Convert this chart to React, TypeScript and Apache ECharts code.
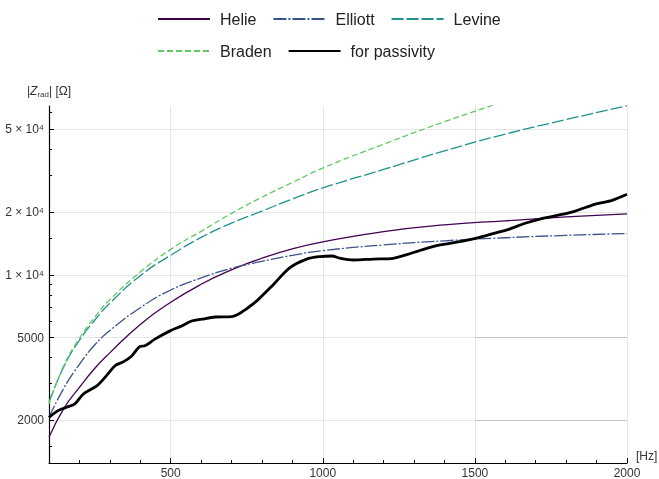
import { useEffect, useRef } from "react";
import * as echarts from "echarts";

// Model curves sampled on a common frequency grid [Hz] -> |Z_rad| [Ohm]
const modelHz = [100, 150, 200, 250, 300, 400, 500, 600, 700, 800, 900, 1000, 1200, 1400, 1600, 1800, 2000];
const helie = [1660, 2300, 2880, 3550, 4220, 5780, 7380, 9000, 10550, 12000, 13300, 14370, 16100, 17350, 18150, 18950, 19600];
const elliott = [2070, 2880, 3720, 4600, 5400, 6950, 8450, 9650, 10750, 11600, 12400, 13050, 13900, 14550, 15050, 15450, 15770];
const levine = [2450, 3650, 4850, 6050, 7300, 9900, 12400, 15100, 17700, 20200, 23100, 26100, 32000, 39300, 47300, 55500, 64700];
const bradenHz = [100, 150, 200, 250, 300, 400, 500, 600, 700, 800, 900, 1000, 1200, 1400, 1600];
const braden = [2400, 3700, 4950, 6250, 7600, 10300, 13230, 16150, 19700, 23550, 27700, 32500, 42300, 54200, 68000];

// "for passivity" measured curve
const passHz = [100, 130, 160, 185, 213, 257, 289, 317, 344, 372, 399, 415, 448, 498, 536, 569, 602, 646, 701, 722, 744, 783, 838, 892, 947, 991, 1030, 1057, 1101, 1166, 1232, 1276, 1331, 1386, 1413, 1499, 1534, 1572, 1611, 1665, 1720, 1786, 1830, 1896, 1951, 2000];
const passZ = [2070, 2230, 2320, 2400, 2680, 2930, 3280, 3660, 3820, 4080, 4530, 4560, 4910, 5380, 5680, 6000, 6120, 6270, 6300, 6460, 6780, 7490, 8990, 10810, 11890, 12220, 12300, 12000, 11770, 11890, 11990, 12500, 13240, 13900, 14090, 14900, 15380, 15930, 16510, 17670, 18610, 19460, 20200, 21830, 22760, 24320];

const seriesNames = ["Helie", "Elliott", "Levine", "Braden", "for passivity"];

const xMajor = [500, 1000, 1500, 2000];
const xMinor = [200, 300, 400, 600, 700, 800, 900, 1100, 1200, 1300, 1400, 1600, 1700, 1800, 1900];
const yMajor = [2000, 5000, 10000, 20000, 50000];
const yMajorLabels = ["2000", "5000", "1 × 10⁴", "2 × 10⁴", "5 × 10⁴"];
const yMinor = [1500, 3000, 4000, 6000, 7000, 8000, 9000, 15000, 30000, 40000, 60000];

const FONT = "Liberation Sans, Arial, sans-serif";

function pairs(xs: number[], ys: number[]) {
  return xs.map((x, i) => [x, ys[i]]);
}

export default function App() {
  const ref = useRef<HTMLDivElement>(null);
  useEffect(() => {
    if (!ref.current) return;
    const chart = echarts.init(ref.current, undefined, { renderer: "svg" });
    const X_MIN = 100, X_MAX = 2000, Y_MIN = 1250, Y_MAX = 64500;
    const lineSeries = (name: string, data: number[][], color: string, width: number, type: any, smooth: any) => ({
      name,
      type: "line",
      data,
      symbol: "none",
      showSymbol: false,
      smooth,
      lineStyle: { color, width, type },
      itemStyle: { color },
      emphasis: { disabled: true },
    });
    const helieS: any = lineSeries(seriesNames[0], pairs(modelHz, helie), "#440154", 1.3, "solid", true);
    helieS.markLine = {
      silent: true,
      symbol: "none",
      label: { show: false },
      lineStyle: { color: "#c4c4c4", width: 1, type: "solid" },
      data: [
        [{ coord: [1500, 5000] }, { coord: [2000, 5000] }],
        [{ coord: [1500, 2000] }, { coord: [2000, 2000] }],
      ],
    };
    chart.setOption({
      animation: false,
      textStyle: { fontFamily: FONT },
      legend: {
        left: 152,
        top: 6,
        width: 400,
        itemWidth: 52,
        itemHeight: 14,
        itemGap: 16,
        data: seriesNames,
        itemStyle: { opacity: 0 },
        textStyle: { fontSize: 16, color: "#222", fontFamily: FONT, padding: [0, 0, 0, 5] },
      },
      grid: { left: 49, right: 32, top: 106, bottom: 16, containLabel: false, outerBoundsMode: "none" },
      xAxis: [
        {
          type: "value",
          min: X_MIN,
          max: X_MAX,
          name: "[Hz]",
          nameLocation: "end",
          nameGap: 9,
          nameTextStyle: { fontSize: 12, color: "#333", fontFamily: FONT, verticalAlign: "bottom", lineHeight: 14 },
          axisLine: { show: true, lineStyle: { color: "#000", width: 1.2 } },
          axisTick: { show: true, inside: true, length: 5, customValues: xMajor, lineStyle: { color: "#000", width: 1 } },
          axisLabel: { show: true, customValues: xMajor, margin: 4, fontSize: 12, color: "#333", fontFamily: FONT, formatter: (v: number) => String(Math.round(v)) },
          splitLine: { show: true, lineStyle: { color: "#e6e6e6", width: 1 } },
        },
        {
          type: "value",
          min: X_MIN,
          max: X_MAX,
          position: "bottom",
          axisLine: { show: false },
          axisTick: { show: true, inside: true, length: 3, customValues: xMinor, lineStyle: { color: "#000", width: 1 } },
          axisLabel: { show: false },
          splitLine: { show: false },
        },
      ],
      yAxis: [
        {
          type: "log",
          min: Y_MIN,
          max: Y_MAX,
          name: "|{z|Z}{s|rad}| [Ω]",
          nameLocation: "end",
          nameGap: 8,
          nameTextStyle: {
            fontSize: 12,
            color: "#333",
            fontFamily: FONT,
            rich: {
              z: { fontSize: 12, fontStyle: "italic", color: "#333", fontFamily: FONT },
              s: { fontSize: 8, color: "#333", fontFamily: FONT, padding: [6, 0, 0, 0] },
            },
          },
          axisLine: { show: true, lineStyle: { color: "#000", width: 1.2 } },
          axisTick: { show: true, inside: true, length: 5, customValues: yMajor, lineStyle: { color: "#000", width: 1 } },
          axisLabel: {
            show: true,
            customValues: yMajor,
            margin: 5,
            fontSize: 12,
            color: "#333",
            fontFamily: FONT,
            formatter: (v: number) => {
              const i = yMajor.findIndex((m) => Math.abs(m - v) / m < 1e-3);
              return i >= 0 ? yMajorLabels[i] : "";
            },
          },
          splitLine: { show: true, lineStyle: { color: "#e6e6e6", width: 1 } },
        },
        {
          type: "log",
          min: Y_MIN,
          max: Y_MAX,
          position: "left",
          offset: 0,
          axisLine: { show: false },
          axisTick: { show: true, inside: true, length: 3, customValues: yMinor, lineStyle: { color: "#000", width: 1 } },
          axisLabel: { show: false },
          splitLine: { show: false },
        },
      ],
      series: [
        helieS,
        lineSeries(seriesNames[1], pairs(modelHz, elliott), "#3b528b", 1.3, [13, 2, 2, 2], true),
        lineSeries(seriesNames[2], pairs(modelHz, levine), "#21918c", 1.3, [12, 3], true),
        lineSeries(seriesNames[3], pairs(bradenHz, braden), "#5ec962", 1.3, [6, 3], true),
        lineSeries(seriesNames[4], pairs(passHz, passZ), "#000000", 2.8, "solid", 0.3),
      ],
    });
    return () => chart.dispose();
  }, []);
  return <div ref={ref} style={{ position: "fixed", left: 0, top: 0, width: 659, height: 479 }} />;
}
